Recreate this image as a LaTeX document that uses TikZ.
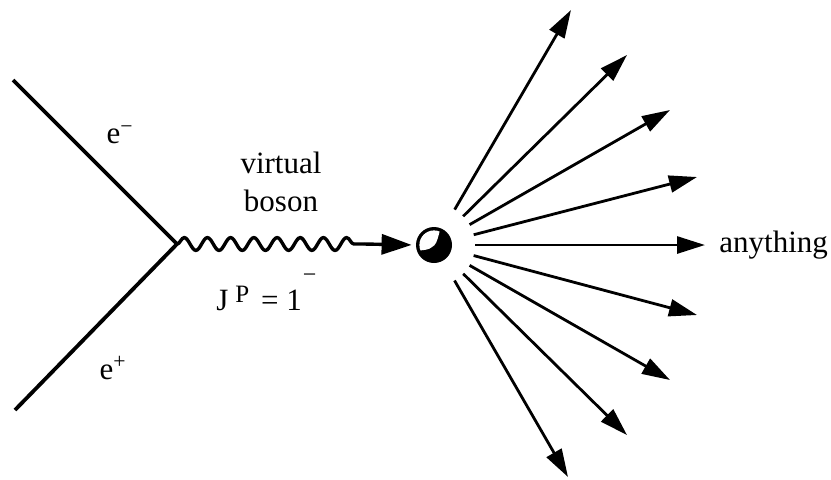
\documentclass[tikz,border=0pt]{standalone}
\usepackage{fontspec}
\setmainfont{Liberation Serif}
\usetikzlibrary{arrows.meta,decorations.pathmorphing,calc}
\begin{document}
\begin{tikzpicture}[x=0.5pt,y=-0.5pt,
  lbl/.style={font=\fontsize{15.5}{19}\selectfont, inner sep=0pt},
  fermion/.style={line width=1.9pt},
  wave/.style={line width=1.7pt, decorate, decoration={snake, segment length=11.6pt, amplitude=3.2pt}},
  outarrow/.style={line width=1.4pt, -{Triangle[length=14pt,width=8.5pt]}},
  inarrow/.style={line width=1.7pt, -{Triangle[length=15pt,width=10pt]}}
]
\useasboundingbox (0,0) rectangle (831,479);
% vertices
\coordinate (in1) at (13,80);
\coordinate (in2) at (15,410);
\coordinate (v) at (177,244);
\coordinate (wend) at (364,244);
\node[circle, minimum size=18pt, inner sep=0pt] (blob) at (434,245) {};
% blob drawing
\fill[black] (blob.center) circle[radius=9pt];
\begin{scope}
  \clip (blob.center) circle[radius=7.3pt];
  \fill[white] ($(blob.center)+(-20,-20)$) -- ($(blob.center)+(7,-20)$) -- ($(blob.center)+(5,-11)$)
     .. controls ($(blob.center)+(3,-4)$) and ($(blob.center)+(2,0)$) .. ($(blob.center)+(-2,2)$)
     .. controls ($(blob.center)+(-5,5)$) and ($(blob.center)+(-10,5)$) .. ($(blob.center)+(-20,6)$) -- cycle;
\end{scope}
% fermion lines
\draw[fermion] (in1) -- (v) -- (in2);
\node[lbl] (em) at (120,135) {e\textsuperscript{−}};
\node[lbl] (ep) at (113,368) {e\textsuperscript{+}};
% boson
\draw[wave] (v) -- (wend);
\draw[inarrow, shorten >=2pt] (wend) -- (blob.west);
\node[lbl, align=center] (vb) at (281,182) {virtual\\boson};
\node[lbl, anchor=base west] (jp) at (216,310) {J\hspace{3.5pt}\raisebox{0.25em}{\fontsize{12.5}{12}\selectfont P}\hspace{2pt} = 1\raisebox{0.9em}{\fontsize{12}{12}\selectfont\hspace{0.5pt}−}};
% outgoing
\coordinate (t1) at (571,10);
\coordinate (t2) at (627,55);
\coordinate (t3) at (670,110);
\coordinate (t4) at (697,177);
\coordinate (t5) at (705,245);
\coordinate (t6) at (697,315);
\coordinate (t7) at (670,380);
\coordinate (t8) at (627,435);
\coordinate (t9) at (568,477);
\foreach \t in {t1,t2,t3,t4,t5,t6,t7,t8,t9}{
  \draw[outarrow] ($(blob.center)!20.5pt!(\t)$) -- (\t);
}
\node[lbl, anchor=west] (any) at (719,245) {anything};
\end{tikzpicture}
\end{document}
